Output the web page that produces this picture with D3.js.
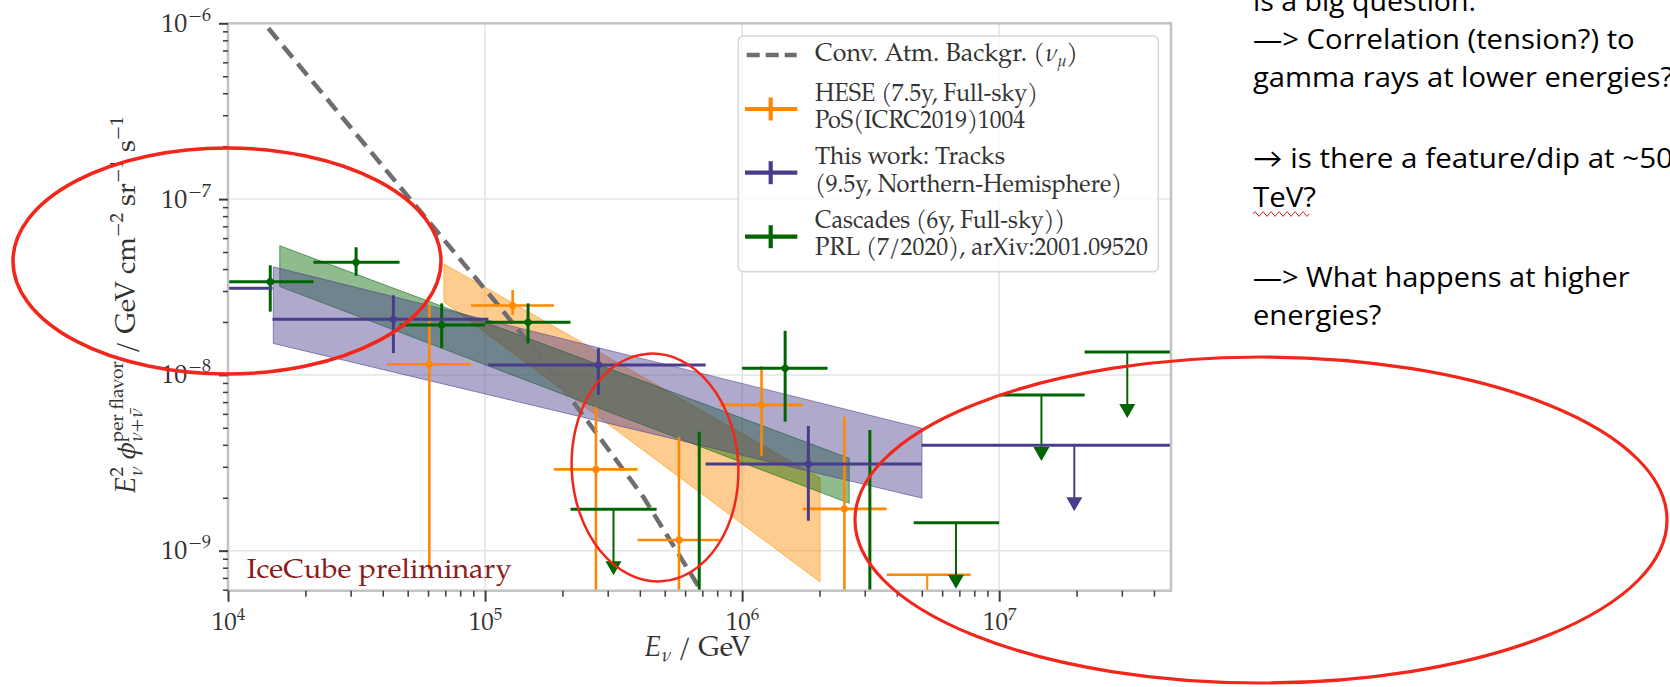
<!DOCTYPE html>
<html>
<head>
<meta charset="utf-8">
<script src="https://cdn.jsdelivr.net/npm/d3@7"></script>
<style>
  html, body { margin: 0; padding: 0; background: #fff; }
  svg { display: block; }
</style>
</head>
<body>
<svg id="chart" width="1670" height="687"></svg>
<script>
// ---- axis ranges / ticks ----
var xDomain = [1e4, 4.66e7];
var yDomain = [5.92e-10, 1e-6];
var xMajor = [1e4, 1e5, 1e6, 1e7];
var yMajor = [1e-9, 1e-8, 1e-7, 1e-6];

// ---- conventional atmospheric background (nu_mu) ----
var atmE = [1.435e4, 1.11e5, 1.635e5, 4.12e5, 6.65e5, 7.4e5];
var atmF = [9.37e-7, 2.55e-8, 1.27e-8, 2.03e-9, 6.53e-10, 4.9e-10];

// ---- HESE (7.5y) ----
var heseE   = [6.07e4, 1.28e5, 2.70e5, 5.68e5, 1.19e6, 2.50e6, 5.25e6];
var heseLo  = [4.14e4, 8.81e4, 1.854e5, 3.92e5, 8.17e5, 1.722e6, 3.65e6];
var heseHi  = [8.81e4, 1.854e5, 3.92e5, 8.17e5, 1.722e6, 3.65e6, 7.74e6];
var heseF   = [1.15e-8, 2.48e-8, 2.90e-9, 1.15e-9, 6.75e-9, 1.73e-9, 7.3e-10];
var heseUp  = [2.50e-8, 3.04e-8, 6.59e-9, 4.45e-9, 1.12e-8, 5.78e-9, null];
var heseDn  = [7.8e-10, 2.19e-8, 1e-10, 1e-10, 3.46e-9, 1e-10, null];
var heseUL  = [false, false, false, false, false, false, true];

// ---- Tracks (this work, 9.5y) ----
var trkE  = [6.7e3, 4.40e4, 2.76e5, 1.81e6, 1.96e7];
var trkLo = [3.0e3, 1.49e4, 1.03e5, 7.21e5, 4.99e6];
var trkHi = [1.49e4, 1.03e5, 7.21e5, 4.99e6, 7.7e7];
var trkF  = [3.11e-8, 2.07e-8, 1.14e-8, 3.11e-9, 3.98e-9];
var trkUp = [4.0e-8, 2.84e-8, 1.42e-8, 5.12e-9, null];
var trkDn = [2.3e-8, 1.33e-8, 7.69e-9, 1.48e-9, null];
var trkUL = [false, false, false, false, true];

// ---- Cascades (6y) ----
var casE  = [1.46e4, 3.15e4, 6.78e4, 1.47e5, 3.16e5, 6.81e5, 1.47e6, 3.14e6, 6.79e6, 1.46e7, 3.15e7];
var casLo = [1.0e4, 2.15e4, 4.65e4, 1.0e5, 2.15e5, 4.65e5, 1.0e6, 2.15e6, 4.65e6, 1.0e7, 2.15e7];
var casHi = [2.15e4, 4.65e4, 1.0e5, 2.15e5, 4.65e5, 1.0e6, 2.15e6, 4.65e6, 1.0e7, 2.15e7, 4.65e7];
var casF  = [3.39e-8, 4.37e-8, 1.92e-8, 1.99e-8, 1.72e-9, 3e-10, 1.09e-8, 3e-10, 1.44e-9, 7.69e-9, 1.35e-8];
var casUp = [4.2e-8, 5.32e-8, 2.55e-8, 2.55e-8, null, 4.75e-9, 1.78e-8, 4.86e-9, null, null, null];
var casDn = [2.29e-8, 3.66e-8, 1.42e-8, 1.51e-8, null, 1e-10, 5.42e-9, 1e-10, null, null, null];
var casUL = [false, false, false, false, true, false, false, false, true, true, true];

// ---- power-law bands: [E_left, E_right], lower / upper edges ----
var heseBandE = [6.92e4, 2.01e6];
var heseBandLo = [2.60e-8, 6.64e-10];
var heseBandHi = [4.28e-8, 2.59e-9];
var casBandE = [1.59e4, 2.61e6];
var casBandLo = [3.18e-8, 1.86e-9];
var casBandHi = [5.43e-8, 3.36e-9];
var trkBandE = [1.5e4, 5.01e6];
var trkBandLo = [1.51e-8, 1.99e-9];
var trkBandHi = [4.12e-8, 4.97e-9];

// legend labels
var legendRows = [
  { kind: 'dash', lines: [] },
  { kind: 'cross', color: '#ff8800', lines: ['HESE (7.5y, Full-sky)', 'PoS(ICRC2019)1004'] },
  { kind: 'cross', color: '#483d8b', lines: ['This work: Tracks', '(9.5y, Northern-Hemisphere)'] },
  { kind: 'cross', color: '#006400', lines: ['Cascades (6y, Full-sky))', 'PRL (7/2020), arXiv:2001.09520'] }
];

// slide notes on the right
var noteLines = [
  'is a big question.',
  '\u2014> Correlation (tension?) to',
  'gamma rays at lower energies?',
  '\u2192 is there a feature/dip at ~50',
  'TeV?',
  '\u2014> What happens at higher',
  'energies?'
];

var serif = "'Palatino Linotype', Palatino, 'TeX Gyre Pagella', 'Liberation Serif', serif";
var sans = "'Open Sans', Lato, 'Noto Sans', sans-serif";

var plot = { left: 228, right: 1171, top: 23.3, bottom: 590.7 };
var svg = d3.select('#chart');

var x = d3.scaleLog().domain(xDomain).range([plot.left, plot.right]);
var y = d3.scaleLog().domain(yDomain).range([plot.bottom, plot.top]);

svg.append('defs').append('clipPath').attr('id', 'plotclip')
  .append('rect')
  .attr('x', plot.left).attr('y', plot.top)
  .attr('width', plot.right - plot.left).attr('height', plot.bottom - plot.top);

// grid (major only)
var grid = svg.append('g');
grid.selectAll('line.gx').data(xMajor).join('line')
  .attr('x1', function (d) { return x(d); }).attr('x2', function (d) { return x(d); })
  .attr('y1', plot.top).attr('y2', plot.bottom)
  .attr('stroke', '#e4e4e4').attr('stroke-width', 1.5);
grid.selectAll('line.gy').data(yMajor).join('line')
  .attr('y1', function (d) { return y(d); }).attr('y2', function (d) { return y(d); })
  .attr('x1', plot.left).attr('x2', plot.right)
  .attr('stroke', '#e4e4e4').attr('stroke-width', 1.5);

var clipped = svg.append('g').attr('clip-path', 'url(#plotclip)');

// bands: orange, green, purple (purple on top)
function band(E, lo, hi, color) {
  var pts = [[E[0], lo[0]], [E[1], lo[1]], [E[1], hi[1]], [E[0], hi[0]]];
  clipped.append('path')
    .attr('d', d3.line().x(function (p) { return x(p[0]); }).y(function (p) { return y(p[1]); })(pts) + 'Z')
    .attr('fill', color).attr('fill-opacity', 0.44)
    .attr('stroke', color).attr('stroke-opacity', 0.55).attr('stroke-width', 1);
}
band(heseBandE, heseBandLo, heseBandHi, '#ff8c00');
band(casBandE, casBandLo, casBandHi, '#006400');
band(trkBandE, trkBandLo, trkBandHi, '#483d8b');

// atmospheric background
clipped.append('path')
  .datum(d3.zip(atmE, atmF))
  .attr('d', d3.line().x(function (p) { return x(p[0]); }).y(function (p) { return y(p[1]); }))
  .attr('fill', 'none').attr('stroke', '#6e6e6e').attr('stroke-width', 4.5)
  .attr('stroke-dasharray', '15,8');

// error bars
function series(E, lo, hi, F, up, dn, ul, color, lw) {
  var g = clipped.append('g');
  E.forEach(function (e, i) {
    var cy = y(F[i]);
    g.append('line')
      .attr('x1', x(lo[i])).attr('x2', x(hi[i])).attr('y1', cy).attr('y2', cy)
      .attr('stroke', color).attr('stroke-width', lw);
    if (ul[i]) {
      var tip = cy + 66;
      g.append('line')
        .attr('x1', x(e)).attr('x2', x(e)).attr('y1', cy).attr('y2', tip - 8)
        .attr('stroke', color).attr('stroke-width', 2);
      g.append('path')
        .attr('d', 'M' + (x(e) - 8) + ',' + (tip - 14) + 'L' + (x(e) + 8) + ',' + (tip - 14) + 'L' + x(e) + ',' + tip + 'Z')
        .attr('fill', color);
    } else {
      g.append('line')
        .attr('x1', x(e)).attr('x2', x(e)).attr('y1', y(dn[i])).attr('y2', y(up[i]))
        .attr('stroke', color).attr('stroke-width', lw);
      g.append('circle').attr('cx', x(e)).attr('cy', cy).attr('r', 3.6).attr('fill', color);
    }
  });
}
series(heseE, heseLo, heseHi, heseF, heseUp, heseDn, heseUL, '#ff8800', 2.6);
series(casE, casLo, casHi, casF, casUp, casDn, casUL, '#006400', 3);
series(trkE, trkLo, trkHi, trkF, trkUp, trkDn, trkUL, '#483d8b', 3);

// frame
svg.append('rect')
  .attr('x', plot.left).attr('y', plot.top)
  .attr('width', plot.right - plot.left).attr('height', plot.bottom - plot.top)
  .attr('fill', 'none').attr('stroke', '#c2c2c2').attr('stroke-width', 2.5);

// axes
function minors(domain) {
  var out = [];
  for (var k = Math.floor(Math.log10(domain[0])); k <= Math.ceil(Math.log10(domain[1])); k++) {
    for (var m = 2; m <= 9; m++) {
      var v = m * Math.pow(10, k);
      if (v >= domain[0] && v <= domain[1]) out.push(v);
    }
  }
  return out;
}

function styleAxis(g, w) {
  g.select('.domain').remove();
  g.selectAll('.tick line').attr('stroke', '#3a3a3a').attr('stroke-width', w);
}

var xMinor = svg.append('g').attr('transform', 'translate(0,' + plot.bottom + ')')
  .call(d3.axisBottom(x).tickValues(minors(xDomain)).tickSize(6).tickFormat(''));
styleAxis(xMinor, 1.5);
var xAxis = svg.append('g').attr('transform', 'translate(0,' + plot.bottom + ')')
  .call(d3.axisBottom(x).tickValues(xMajor).tickSize(11).tickFormat(''));
styleAxis(xAxis, 2);
xAxis.selectAll('.tick text').each(function (d) {
  var t = d3.select(this).attr('y', 39).attr('dy', null)
    .attr('font-family', serif).attr('font-size', 25).attr('fill', '#333');
  t.append('tspan').text('10');
  t.append('tspan').attr('font-size', 17).attr('dy', -10).text(Math.round(Math.log10(d)));
});

var yMinor = svg.append('g').attr('transform', 'translate(' + plot.left + ',0)')
  .call(d3.axisLeft(y).tickValues(minors(yDomain)).tickSize(5).tickFormat(''));
styleAxis(yMinor, 1.5);
var yAxis = svg.append('g').attr('transform', 'translate(' + plot.left + ',0)')
  .call(d3.axisLeft(y).tickValues(yMajor).tickSize(9).tickFormat(''));
styleAxis(yAxis, 2);
yAxis.selectAll('.tick text').each(function (d) {
  var t = d3.select(this).attr('x', -17).attr('dy', 8)
    .attr('font-family', serif).attr('font-size', 26).attr('fill', '#333');
  t.append('tspan').text('10');
  t.append('tspan').attr('font-size', 18).attr('dy', -11).attr('dx', 1).text('\u2212' + Math.round(-Math.log10(d)));
});

// x label
var xl = svg.append('text')
  .attr('x', (plot.left + plot.right) / 2 - 2).attr('y', 656)
  .attr('text-anchor', 'middle').attr('font-family', serif).attr('font-size', 28).attr('fill', '#333');
xl.append('tspan').attr('font-style', 'italic').text('E');
xl.append('tspan').attr('font-style', 'italic').attr('font-size', 19).attr('dy', 5).text('\u03bd');
xl.append('tspan').attr('dy', -5).text('  / GeV');

// y label (rotated, built from pieces)
var yl = svg.append('text')
  .attr('transform', 'translate(135,305) rotate(-90)')
  .attr('text-anchor', 'middle').attr('font-family', serif).attr('font-size', 28).attr('fill', '#333');
function piece(parent, txt, opts) {
  var s = parent.append('tspan').text(txt);
  if (opts.size) s.attr('font-size', opts.size);
  if (opts.it) s.attr('font-style', 'italic');
  if (opts.dy) s.attr('dy', opts.dy);
  if (opts.dx) s.attr('dx', opts.dx);
  return s;
}
piece(yl, 'E', { it: true });
var s1 = piece(yl, '2', { size: 19, dy: -12 });
var w1 = s1.node().getComputedTextLength();
var s2 = piece(yl, '\u03bd', { size: 19, it: true, dy: 19, dx: -w1 });
var w2 = s2.node().getComputedTextLength();
piece(yl, ' \u03d5', { it: true, dy: -7, dx: Math.max(0, w1 - w2) });
var s3 = piece(yl, 'per flavor', { size: 19, dy: -12 });
var w3 = s3.node().getComputedTextLength();
var s4 = piece(yl, '\u03bd+\u03bd\u0304', { size: 19, it: true, dy: 19, dx: -w3 });
var w4 = s4.node().getComputedTextLength();
piece(yl, ' / GeV cm', { dy: -7, dx: w3 - w4 });
piece(yl, '\u22122', { size: 19, dy: -12 });
piece(yl, ' sr', { dy: 12 });
piece(yl, '\u22121', { size: 19, dy: -12 });
piece(yl, ' s', { dy: 12 });
piece(yl, '\u22121', { size: 19, dy: -12 });

// IceCube preliminary
svg.append('text')
  .attr('x', 246.7).attr('y', 578.3)
  .attr('font-family', serif).attr('font-size', 27).attr('fill', '#8b1c1c')
  .attr('textLength', 265).attr('lengthAdjust', 'spacingAndGlyphs')
  .text('IceCube preliminary');

// legend
var lg = svg.append('g');
lg.append('rect')
  .attr('x', 738.3).attr('y', 36).attr('width', 420).attr('height', 235.7).attr('rx', 5)
  .attr('fill', '#fff').attr('fill-opacity', 0.82)
  .attr('stroke', '#d6d6d6').attr('stroke-width', 1.5);
var handleY = [55, 109, 172.7, 236.7];
var textY = [[60.5], [100.7, 128.3], [164, 191.7], [228.3, 255]];
var textW = [[255], [223, 210], [190, 307], [250, 333]];
legendRows.forEach(function (row, i) {
  if (row.kind === 'dash') {
    lg.append('line').attr('x1', 746.7).attr('x2', 796.7).attr('y1', handleY[i]).attr('y2', handleY[i])
      .attr('stroke', '#6e6e6e').attr('stroke-width', 4.5).attr('stroke-dasharray', '13,6');
    var t = lg.append('text').attr('x', 815).attr('y', textY[i][0])
      .attr('font-family', serif).attr('font-size', 25).attr('fill', '#333');
    t.append('tspan').text('Conv. Atm. Backgr. (');
    t.append('tspan').attr('font-style', 'italic').text('\u03bd');
    t.append('tspan').attr('font-style', 'italic').attr('font-size', 16).attr('dy', 5).text('\u03bc');
    t.append('tspan').attr('dy', -5).text(')');
  } else {
    lg.append('line').attr('x1', 745).attr('x2', 797.3).attr('y1', handleY[i]).attr('y2', handleY[i])
      .attr('stroke', row.color).attr('stroke-width', 4.2);
    lg.append('line').attr('x1', 770.7).attr('x2', 770.7).attr('y1', handleY[i] - 11.5).attr('y2', handleY[i] + 11.5)
      .attr('stroke', row.color).attr('stroke-width', 4.2);
    row.lines.forEach(function (ln, j) {
      lg.append('text').attr('x', 815).attr('y', textY[i][j])
        .attr('font-family', serif).attr('font-size', 25).attr('fill', '#333')
        .attr('textLength', textW[i][j]).attr('lengthAdjust', 'spacingAndGlyphs')
        .text(ln);
    });
  }
});

// notes on the right
var noteY = [11, 49.3, 87.3, 168.3, 206.7, 286.7, 325];
var noteW = [223, 381.7, 420, 420, 63, 376.7, 128.3];
noteLines.forEach(function (ln, i) {
  svg.append('text').attr('x', 1253).attr('y', noteY[i])
    .attr('font-family', sans).attr('font-size', 27).attr('fill', '#000')
    .attr('textLength', noteW[i]).attr('lengthAdjust', 'spacingAndGlyphs')
    .text(ln);
});
// spell-check squiggle under "TeV?"
var sq = 'M1253,214';
for (var k = 0; k < 14; k++) sq += 'l2,' + (k % 2 ? 2.4 : -2.4) + 'l2,' + (k % 2 ? -2.4 : 2.4);
svg.append('path').attr('d', sq).attr('fill', 'none').attr('stroke', '#e02020').attr('stroke-width', 1);

// red hand-drawn ellipses
var ell = svg.append('g').attr('fill', 'none').attr('stroke', '#f2261a');
ell.append('ellipse').attr('cx', 227).attr('cy', 261).attr('rx', 214).attr('ry', 113).attr('stroke-width', 3.5);
ell.append('ellipse').attr('cx', 655).attr('cy', 467.5).attr('rx', 83.3).attr('ry', 114)
  .attr('transform', 'rotate(-3,655,467.5)').attr('stroke-width', 2.5);
ell.append('ellipse').attr('cx', 1261).attr('cy', 520).attr('rx', 406).attr('ry', 163).attr('stroke-width', 3.2);
</script>
</body>
</html>
